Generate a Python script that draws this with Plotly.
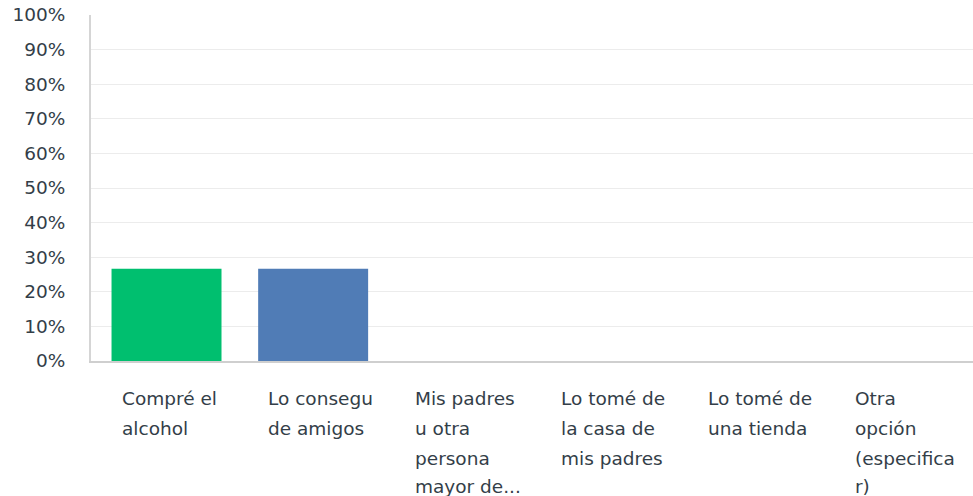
import plotly.graph_objects as go

categories = ["Compré el alcohol", "Lo consegu de amigos", "Mis padres u otra persona mayor de...",
              "Lo tomé de la casa de mis padres", "Lo tomé de una tienda", "Otra opción (especificar)"]
label_lines = [
    ["Compré el", "alcohol"],
    ["Lo consegu", "de amigos"],
    ["Mis padres", "u otra", "persona", "mayor de..."],
    ["Lo tomé de", "la casa de", "mis padres"],
    ["Lo tomé de", "una tienda"],
    ["Otra", "opción", "(especifica", "r)"],
]
values = [26.67, 26.67, 0, 0, 0, 0]
colors = ["#00bf6f", "#507cb6", "#f05b24", "#ffce00", "#6bc8cd", "#ff8b4f"]
y_ticks = list(range(0, 101, 10))
y_tick_labels = [f"{v}%" for v in y_ticks]

FONT = "DejaVu Sans"
TXT = "#333e48"

W, H = 973, 496

fig = go.Figure(go.Bar(x=list(range(len(categories))), y=values,
                       marker=dict(color=colors, line=dict(width=0)),
                       hoverinfo="skip"))

annotations = []
line_offsets = [37, 67, 97, 125]
for idx, lines in enumerate(label_lines):
    for i, ln in enumerate(lines):
        annotations.append(dict(x=idx, xref="x", y=0, yref="paper", text=ln, showarrow=False,
                                xanchor="left", yanchor="middle", xshift=-47, yshift=-line_offsets[i],
                                font=dict(family=FONT, size=18.5, color=TXT)))

fig.update_layout(
    width=W, height=H,
    margin=dict(l=91, r=0, t=15, b=135, pad=0),
    plot_bgcolor="white", paper_bgcolor="white",
    bargap=0.25,
    showlegend=False,
    annotations=annotations,
    xaxis=dict(range=[-0.515, 5.5], showticklabels=False, showgrid=False, showline=True,
               linecolor="#cfcfcf", linewidth=2, ticks="", zeroline=False, fixedrange=True,
               automargin=False),
    yaxis=dict(range=[0, 100], tickvals=y_ticks, ticktext=y_tick_labels, showgrid=True,
               gridcolor="#ececec", gridwidth=1, showline=True, linecolor="#d5d5d5", linewidth=2,
               zeroline=False, ticks="", ticklabelstandoff=20, ticklabeloverflow="allow",
               automargin=False, fixedrange=True,
               tickfont=dict(family=FONT, size=18.5, color=TXT)),
)
fig.write_html("out.html", config={"displayModeBar": False, "staticPlot": True},
               post_script="document.body.style.margin='0';")
